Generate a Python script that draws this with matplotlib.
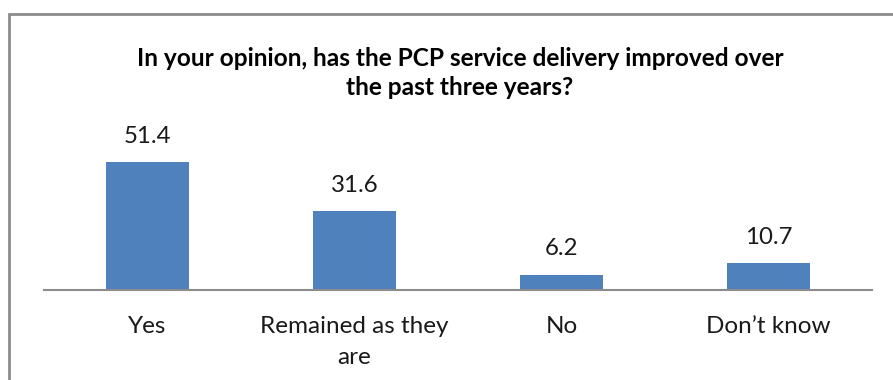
import matplotlib
matplotlib.use("Agg")
import matplotlib.pyplot as plt
from matplotlib.patches import Rectangle

categories = ["Yes", "Remained as they\nare", "No", "Don\u2019t know"]
values = [51.4, 31.6, 6.2, 10.7]

BLUE = "#4F81BD"
AXIS_GREY = "#8C8C8C"
plt.rcParams["font.family"] = ["Lato", "DejaVu Sans"]

fig = plt.figure(figsize=(8.93, 3.80), dpi=100)
# chart frame, cut off on the right and bottom
fig.patches.append(Rectangle((9 / 893, -0.05), 1.0, 1 - 14 / 380 + 0.05,
                             transform=fig.transFigure, fill=False,
                             edgecolor=AXIS_GREY, linewidth=2))

ax = fig.add_axes([44 / 893, 90 / 380, 828 / 893, 180 / 380])
x = range(len(categories))
ax.bar(x, values, width=0.4, color=BLUE)
ax.set_xlim(-0.5, len(categories) - 0.5)
ax.set_ylim(0, 180 / 2.49)

for xi, v in zip(x, values):
    ax.annotate(f"{v}", (xi, v), xytext=(0, 11), textcoords="offset points",
                ha="center", va="bottom", fontsize=17.3, color="#1a1a1a")

ax.set_xticks(list(x))
ax.set_xticklabels(categories, fontsize=17.5, color="#1a1a1a", linespacing=1.55, va="top")
ax.tick_params(axis="x", length=0, pad=19)
ax.set_yticks([])
for side in ["top", "right", "left"]:
    ax.spines[side].set_visible(False)
ax.spines["bottom"].set_color(AXIS_GREY)
ax.spines["bottom"].set_linewidth(1.5)

fig.text(460 / 893, 1 - 73 / 380,
         "In your opinion, has the PCP service delivery improved over\nthe past three years?",
         ha="center", va="center", fontsize=17.6, fontweight="bold", linespacing=1.3)

fig.savefig("out.png", dpi=100)
